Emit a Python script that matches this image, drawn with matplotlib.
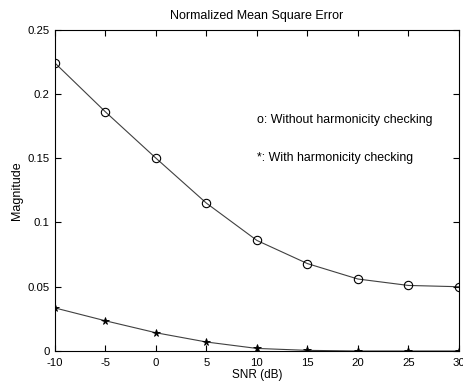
import matplotlib.pyplot as plt

snr = [-10, -5, 0, 5, 10, 15, 20, 25, 30]
nmse_without = [0.224, 0.186, 0.150, 0.115, 0.086, 0.068, 0.056, 0.051, 0.050]
nmse_with = [0.0335, 0.0235, 0.0142, 0.0070, 0.0020, 0.0005, 0.0, 0.0, 0.0]
x_labels = ['-10', '-5', '0', '5', '10', '15', '20', '25', '30']
y_ticks = [0, 0.05, 0.1, 0.15, 0.2, 0.25]
y_labels = ['0', '0.05', '0.1', '0.15', '0.2', '0.25']

plt.rcParams['font.family'] = ['Liberation Sans', 'DejaVu Sans']
plt.rcParams['font.size'] = 8.2

fig = plt.figure(figsize=(4.64, 3.85), dpi=100)
ax = fig.add_axes([0.1185, 0.0883, 0.8705, 0.8347])

ax.plot(snr, nmse_without, color='#404040', linewidth=0.8)
ax.plot(snr, nmse_without, 'o', markerfacecolor='none', markeredgecolor='black',
        markersize=6, markeredgewidth=0.8)
ax.plot(snr, nmse_with, color='#404040', linewidth=0.8)
ax.plot(snr, nmse_with, '*', color='black', markersize=5.5, markeredgewidth=0.6)

ax.text(10, 0.18, 'o: Without harmonicity checking', va='center', ha='left', fontsize=8.9)
ax.text(10, 0.15, '*: With harmonicity checking', va='center', ha='left', fontsize=8.9)

ax.set_xlim(-10, 30)
ax.set_ylim(0, 0.25)
ax.set_xticks(snr)
ax.set_xticklabels(x_labels)
ax.set_yticks(y_ticks)
ax.set_yticklabels(y_labels)
ax.tick_params(direction='in', top=True, right=True, length=4, width=0.8)
ax.tick_params(axis='x', pad=5)
ax.tick_params(axis='y', pad=4)
for s in ax.spines.values():
    s.set_linewidth(0.8)

ax.set_title('Normalized Mean Square Error', pad=8, fontsize=9)
ax.set_xlabel('SNR (dB)', labelpad=1, fontsize=8.5)
ax.set_ylabel('Magnitude', labelpad=3, fontsize=9)

fig.savefig('out.png', dpi=100)
